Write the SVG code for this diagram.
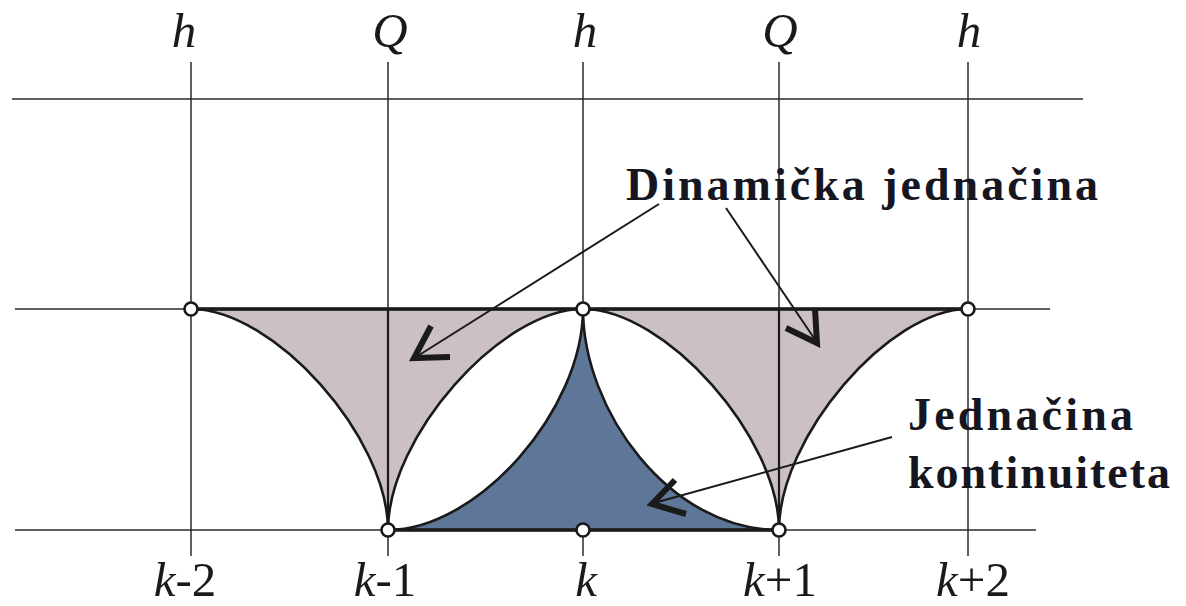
<svg xmlns="http://www.w3.org/2000/svg" width="1186" height="606" viewBox="0 0 1186 606">
<style>
.grid{stroke:#2a2a2a;stroke-width:1.5;fill:none}
.edge{stroke:#1a1a1a;stroke-width:2.6;fill:none}
.thick{stroke:#1a1a1a;stroke-width:3.4;fill:none}
.gray{fill:#cbc0c4}
.blue{fill:#5e7799}
.node{fill:#fff;stroke:#1a1a1a;stroke-width:2.6}
.arrow{stroke:#1a1a1a;stroke-width:2;fill:none}
.head{stroke:#1a1a1a;stroke-width:6;fill:none;stroke-linecap:butt;stroke-linejoin:miter}
.lab{font-family:'Liberation Serif','Times New Roman',Times,serif;font-size:49px;fill:#1a1a1a;text-anchor:middle}
.it{font-style:italic}
.ann{font-family:'Liberation Serif','Times New Roman',Times,serif;font-weight:bold;font-size:46px;fill:#161620}
</style>
<g id="grid">
<line class="grid" x1="12" y1="99" x2="1083" y2="99"/>
<line class="grid" x1="15" y1="309" x2="1050" y2="309"/>
<line class="grid" x1="15" y1="530" x2="1036" y2="530"/>
<line class="grid" x1="191" y1="62" x2="191" y2="556"/>
<line class="grid" x1="388" y1="62" x2="388" y2="556"/>
<line class="grid" x1="583" y1="62" x2="583" y2="556"/>
<line class="grid" x1="779" y1="62" x2="779" y2="556"/>
<line class="grid" x1="968" y1="62" x2="968" y2="556"/>
</g>
<g id="regions">
<path id="dyn-left" class="gray edge" d="M191,309 C274,309 388,437 388,530 C388,437 501,309 583,309 Z"/>
<path id="dyn-right" class="gray edge" d="M583,309 C665,309 779,437 779,530 C779,437 889,309 968,309 Z"/>
<path id="cont" class="blue edge" d="M583,309 C583,410 478,530 388,530 L779,530 C669,530 583,410 583,309 Z"/>
<line class="edge" x1="388" y1="309" x2="388" y2="530" style="stroke-width:2.2"/>
<line class="edge" x1="779" y1="309" x2="779" y2="530" style="stroke-width:2.2"/>
<line class="thick" x1="191" y1="309" x2="968" y2="309"/>
<line class="thick" x1="388" y1="530" x2="779" y2="530"/>
</g>
<g id="nodes">
<g id="node-h-k-2"><circle class="node" cx="191" cy="309" r="6.5"/></g>
<g id="node-h-k"><circle class="node" cx="583" cy="309" r="6.5"/></g>
<g id="node-h-k+2"><circle class="node" cx="968" cy="309" r="6.5"/></g>
<g id="node-k-1"><circle class="node" cx="388" cy="530" r="6.5"/></g>
<g id="node-k"><circle class="node" cx="583" cy="530" r="6.5"/></g>
<g id="node-k+1"><circle class="node" cx="779" cy="530" r="6.5"/></g>
</g>
<g id="connectors">
<line class="arrow" x1="659" y1="204" x2="416" y2="357"/>
<polyline class="head" points="431,326 414,358 450,357"/>
<line class="arrow" x1="726" y1="208" x2="816" y2="341"/>
<polyline class="head" points="786,328 817,343 815,309"/>
<line class="arrow" x1="892" y1="437" x2="654" y2="503"/>
<polyline class="head" points="675,480 652,504 686,514"/>
</g>
<g id="labels-top">
<text class="lab it" x="184" y="47">h</text>
<text class="lab it" x="390" y="47">Q</text>
<text class="lab it" x="585" y="47">h</text>
<text class="lab it" x="780" y="47">Q</text>
<text class="lab it" x="969" y="47">h</text>
</g>
<g id="labels-bottom">
<text class="lab" x="185" y="596"><tspan class="it">k</tspan>-2</text>
<text class="lab" x="385" y="596"><tspan class="it">k</tspan>-1</text>
<text class="lab it" x="586" y="596">k</text>
<text class="lab" x="780" y="596"><tspan class="it">k</tspan>+1</text>
<text class="lab" x="973" y="596"><tspan class="it">k</tspan>+2</text>
</g>
<g id="annotations">
<text id="dyn-label" class="ann" x="626" y="200" textLength="472" lengthAdjust="spacing">Dinamička jednačina</text>
<text id="cont-label-1" class="ann" x="908" y="430" textLength="225" lengthAdjust="spacing">Jednačina</text>
<text id="cont-label-2" class="ann" x="908" y="488" textLength="262" lengthAdjust="spacing">kontinuiteta</text>
</g>
</svg>
